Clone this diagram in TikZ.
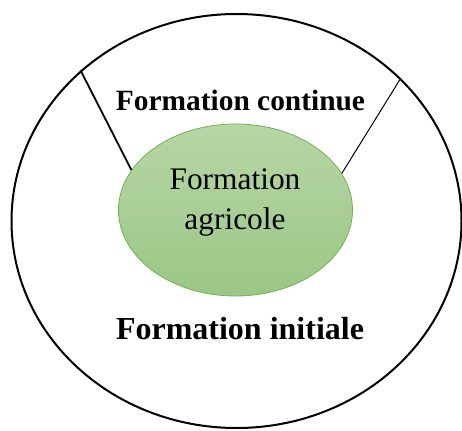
\documentclass[tikz,border=0pt]{standalone}
\usepackage{fontspec}
\setmainfont{Liberation Serif}
\usetikzlibrary{shapes.geometric}
\definecolor{leafgreen}{RGB}{116,177,78}
\definecolor{leaftop}{RGB}{183,214,166}
\definecolor{leafbottom}{RGB}{154,199,133}

\begin{document}
\begin{tikzpicture}[x=1pt,y=-1pt,every node/.style={inner sep=0pt},
  ring/.style={ellipse,draw,line width=2pt,minimum width=450pt,minimum height=414pt},
  core/.style={ellipse,draw=leafgreen,line width=0.8pt,top color=leaftop,bottom color=leafbottom,minimum width=234pt,minimum height=172pt},
  title/.style={font=\bfseries\fontsize{29.4}{34}\selectfont}]
	\useasboundingbox (0,0) rectangle (462,430);
	\node[ring] (initiale) at (236.5,221) {};
	\node[core] (agricole) at (235.5,210) {};
	\node[align=center,font=\fontsize{31.4}{40}\selectfont] (agritext) at (235,202) {Formation\\agricole};
	\node[title,anchor=base] (continue) at (240.5,111) {Formation continue};
	\node[title,anchor=base,font=\bfseries\fontsize{32}{36}\selectfont] (init) at (240,339) {Formation initiale};
	
	\draw[line width=1.8pt] (initiale.136.8) -- (agricole.159.8);
	\draw[line width=1pt] (initiale.41.6) -- (agricole.19);
\end{tikzpicture}
\end{document}
